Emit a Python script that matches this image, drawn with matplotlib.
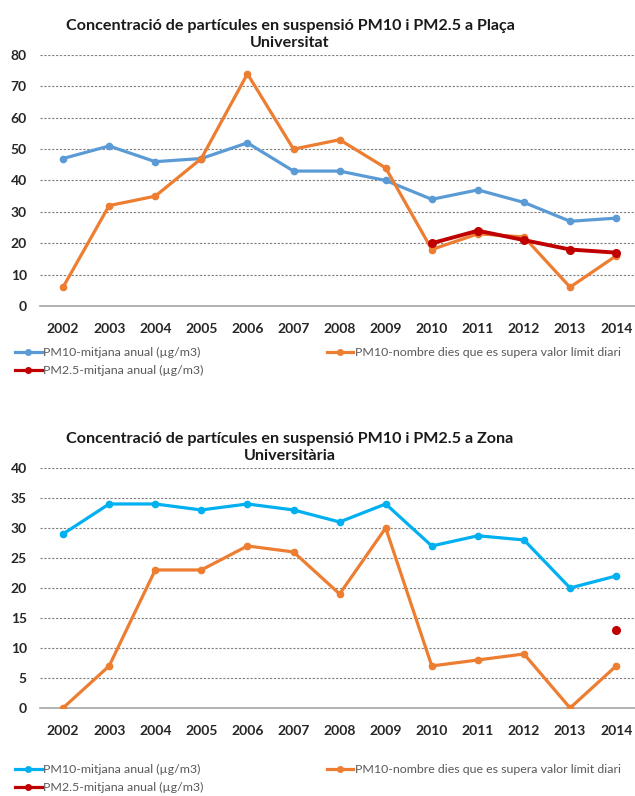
import numpy as np
import matplotlib
matplotlib.use("Agg")
import matplotlib.pyplot as plt
from matplotlib.lines import Line2D

plt.rcParams['font.family'] = ['Lato', 'DejaVu Sans']

years = ['2002', '2003', '2004', '2005', '2006', '2007', '2008',
         '2009', '2010', '2011', '2012', '2013', '2014']

# Plaça Universitat
pu_pm10_mean = [47, 51, 46, 47, 52, 43, 43, 40, 34, 37, 33, 27, 28]
pu_pm10_days = [6, 32, 35, 47, 74, 50, 53, 44, 18, 23, 22, 6, 16]
pu_pm25_mean = [np.nan] * 8 + [20, 24, 21, 18, 17]

# Zona Universitària
zu_pm10_mean = [29, 34, 34, 33, 34, 33, 31, 34, 27, 28.7, 28, 20, 22]
zu_pm10_days = [0, 7, 23, 23, 27, 26, 19, 30, 7, 8, 9, 0, 7]
zu_pm25_mean = [np.nan] * 12 + [13]

lbl_mean = 'PM10-mitjana anual (µg/m3)'
lbl_days = 'PM10-nombre dies que es supera valor límit diari'
lbl_pm25 = 'PM2.5-mitjana anual (µg/m3)'

orange = '#ED7D31'
red = '#C00000'

fig = plt.figure(figsize=(6.35, 7.96), dpi=100)


def draw(ax, mean, days, pm25, mean_color, ymax, step, title, leg_y):
    x = np.arange(len(years))
    ax.plot(x, mean, color=mean_color, lw=2.3, marker='o', ms=4.5, zorder=3)
    ax.plot(x, days, color=orange, lw=2.3, marker='o', ms=4.5, zorder=3)
    ax.plot(x, pm25, color=red, lw=2.8, marker='o', ms=5.5, zorder=4)
    ax.set_xlim(-0.5, 12.45)
    ax.set_ylim(0, ymax)
    ax.set_yticks(np.arange(0, ymax + 1, step))
    ax.set_xticks(x)
    ax.set_xticklabels(years)
    ax.yaxis.grid(True, ls=(0, (2, 1.5)), color='#7f7f7f', lw=0.8)
    ax.set_axisbelow(True)
    for s in ['top', 'right', 'left']:
        ax.spines[s].set_visible(False)
    ax.spines['bottom'].set_color('#a6a6a6')
    ax.spines['bottom'].set_linewidth(1.2)
    ax.tick_params(length=0, labelsize=10, colors='#262626')
    ax.tick_params(axis='x', pad=12)
    ax.tick_params(axis='y', pad=9.5)
    for t in ax.get_xticklabels() + ax.get_yticklabels():
        t.set_fontweight('bold')
    ax.set_title(title, fontsize=11.6, fontweight='bold', color='#1a1a1a',
                 linespacing=1.25, pad=6, x=0.419)
    handles = [Line2D([], [], color=mean_color, lw=2.3, marker='o', ms=4),
               Line2D([], [], color=red, lw=2.3, marker='o', ms=4),
               Line2D([], [], color=orange, lw=2.3, marker='o', ms=4)]
    ax.legend(handles, [lbl_mean, lbl_pm25, lbl_days], ncol=2,
              loc='upper left', bbox_to_anchor=(-0.05, leg_y),
              frameon=False, fontsize=8.9, handlelength=2.15,
              handletextpad=0.1, columnspacing=10.0, labelspacing=0.6,
              labelcolor='#595959', borderaxespad=0)


ax1 = fig.add_axes([0.063, 0.6156, 0.94, 0.3153])
draw(ax1, pu_pm10_mean, pu_pm10_days, pu_pm25_mean, '#5B9BD5', 80, 10,
     'Concentració de partícules en suspensió PM10 i PM2.5 a Plaça\nUniversitat',
     -0.143)

ax2 = fig.add_axes([0.063, 0.1106, 0.94, 0.3015])
draw(ax2, zu_pm10_mean, zu_pm10_days, zu_pm25_mean, '#00B0F0', 40, 5,
     'Concentració de partícules en suspensió PM10 i PM2.5 a Zona\nUniversitària',
     -0.2125)

fig.savefig('out.png', dpi=100)
